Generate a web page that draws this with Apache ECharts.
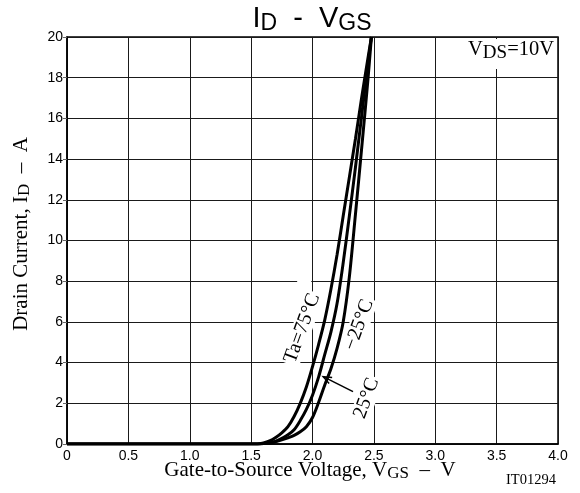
<!DOCTYPE html>
<html>
<head>
<meta charset="utf-8">
<script src="https://cdn.jsdelivr.net/npm/echarts@6/dist/echarts.min.js"></script>
<style>
  html, body { margin: 0; padding: 0; background: #fff; }
  #chart { width: 580px; height: 493px; }
</style>
</head>
<body>
<div id="chart"></div>
<script>
// Gate voltage (V) and drain current (A) samples for each ambient temperature
const vgsT75 = [0, 1.0, 1.5, 1.55, 1.6, 1.65, 1.7, 1.75, 1.8, 1.85, 1.9, 1.95, 2.0, 2.05, 2.1, 2.15, 2.2, 2.25, 2.3, 2.35, 2.4, 2.45, 2.48];
const idT75  = [0, 0, 0, 0, 0.05, 0.15, 0.32, 0.55, 0.85, 1.35, 2.0, 2.8, 3.8, 4.9, 6.1, 7.6, 9.3, 11.2, 13.1, 15.0, 17.0, 18.9, 20];

const vgsT25 = [0, 1.0, 1.5, 1.55, 1.6, 1.65, 1.7, 1.75, 1.8, 1.85, 1.9, 1.95, 2.0, 2.05, 2.1, 2.15, 2.2, 2.25, 2.3, 2.35, 2.4, 2.45, 2.48];
const idT25  = [0, 0, 0, 0, 0.02, 0.05, 0.13, 0.28, 0.45, 0.7, 1.15, 1.7, 2.4, 3.3, 4.4, 5.5, 6.9, 8.9, 11.2, 13.6, 16.1, 18.6, 20];

const vgsTm25 = [0, 1.0, 1.5, 1.55, 1.6, 1.65, 1.7, 1.75, 1.8, 1.85, 1.9, 1.95, 2.0, 2.05, 2.1, 2.15, 2.2, 2.25, 2.3, 2.35, 2.4, 2.45, 2.48];
const idTm25  = [0, 0, 0, 0, 0.02, 0.06, 0.12, 0.2, 0.3, 0.42, 0.6, 0.85, 1.3, 2.05, 2.9, 3.7, 4.7, 6.0, 8.2, 11.3, 14.5, 17.8, 20];

// Axis tick labels
const xTickLabels = ['0', '0.5', '1.0', '1.5', '2.0', '2.5', '3.0', '3.5', '4.0'];
const yTickLabels = ['0', '2', '4', '6', '8', '10', '12', '14', '16', '18', '20'];

const SANS = 'Liberation Sans, Arial, sans-serif';
const SERIF = 'Liberation Serif, Times New Roman, serif';

function pairs(xs, ys) { return xs.map((x, i) => [x, ys[i]]); }

const chart = echarts.init(document.getElementById('chart'));

function curve(name, xs, ys) {
  return {
    name: name,
    type: 'line',
    data: pairs(xs, ys),
    showSymbol: false,
    smooth: 0.3,
    lineStyle: { color: '#000', width: 3 },
    z: 5,
    silent: true
  };
}

chart.setOption({
  animation: false,
  backgroundColor: '#fff',
  grid: {
    left: 67, right: 22, top: 37, bottom: 49,
    show: true, borderColor: '#000', borderWidth: 1.5, backgroundColor: 'transparent'
  },
  xAxis: {
    type: 'value', min: 0, max: 4, interval: 0.5,
    axisLine: { show: true, lineStyle: { color: '#000', width: 1.5 } },
    axisTick: { show: false },
    axisLabel: {
      color: '#000', fontFamily: SANS, fontSize: 14, margin: 5,
      formatter: (v) => xTickLabels[Math.round(v / 0.5)]
    },
    splitLine: { show: true, lineStyle: { color: '#1a1a1a', width: 1 } }
  },
  yAxis: {
    type: 'value', min: 0, max: 20, interval: 2,
    axisLine: { show: true, lineStyle: { color: '#000', width: 1.5 } },
    axisTick: { show: true, length: 4, lineStyle: { color: '#666' } },
    axisLabel: {
      color: '#000', fontFamily: SANS, fontSize: 14, margin: 4,
      formatter: (v) => yTickLabels[Math.round(v / 2)]
    },
    splitLine: { show: true, lineStyle: { color: '#1a1a1a', width: 1 } }
  },
  series: [
    curve('Ta=75°C', vgsT75, idT75),
    curve('25°C', vgsT25, idT25),
    curve('-25°C', vgsTm25, idTm25)
  ]
});

// Annotations placed in data space, then converted to pixels
function px(v, i) { return chart.convertToPixel({ gridIndex: 0 }, [v, i]); }

const rot = 70 * Math.PI / 180;
function curveLabel(text, v, i) {
  const p = px(v, i);
  return {
    type: 'text', x: p[0], y: p[1], rotation: rot, z: 20,
    style: {
      text: text, fontFamily: SERIF, fontSize: 20, fill: '#000',
      align: 'center', verticalAlign: 'middle',
      backgroundColor: '#fff', padding: [0, 2]
    }
  };
}

const tip = px(2.087, 3.31);
const tail = px(2.33, 2.57);
const ang = Math.atan2(tail[1] - tip[1], tail[0] - tip[0]);
const headLen = 9, spread = 0.38;
const h1 = [tip[0] + headLen * Math.cos(ang + spread), tip[1] + headLen * Math.sin(ang + spread)];
const h2 = [tip[0] + headLen * Math.cos(ang - spread), tip[1] + headLen * Math.sin(ang - spread)];

// Small blank patch over the 8 A grid line just left of 2.0 V
const gapA = px(1.875, 8.08);
const gapB = px(1.99, 7.92);

const subStyleSerif = { fontFamily: SERIF, fontSize: 17, fill: '#000', padding: [8, 0, 0, 0] };

chart.setOption({
  graphic: [
    {
      type: 'rect', z: 1,
      shape: { x: gapA[0], y: gapA[1], width: gapB[0] - gapA[0], height: gapB[1] - gapA[1] },
      style: { fill: '#fff' }
    },
    curveLabel('Ta=75°C', 1.916, 5.69),
    curveLabel('\u221225°C', 2.38, 5.85),
    curveLabel('25°C', 2.44, 2.25),
    {
      type: 'polyline', z: 20,
      shape: { points: [tail, tip] },
      style: { stroke: '#000', lineWidth: 1.5, fill: null }
    },
    {
      type: 'polyline', z: 20,
      shape: { points: [h1, tip, h2] },
      style: { stroke: '#000', lineWidth: 1.5, fill: null }
    },
    // Title
    {
      type: 'text', x: 312, y: 19, z: 20,
      style: {
        text: '{a|I}{b|D}{a|  -  V}{b|GS}',
        align: 'center', verticalAlign: 'middle',
        rich: {
          a: { fontFamily: SANS, fontSize: 29, fill: '#000', lineHeight: 32 },
          b: { fontFamily: SANS, fontSize: 23, fill: '#000', lineHeight: 23, padding: [10, 0, 0, 0] }
        }
      }
    },
    // Drain-source voltage condition
    {
      type: 'text', x: 555, y: 39, z: 20,
      style: {
        text: '{a|V}{b|DS}{a|=10V}',
        align: 'right', verticalAlign: 'top',
        backgroundColor: '#fff', padding: [0, 1, 8, 3],
        rich: {
          a: { fontFamily: SERIF, fontSize: 20.5, fill: '#000', lineHeight: 22 },
          b: { fontFamily: SERIF, fontSize: 19, fill: '#000', lineHeight: 19, padding: [7, 0, 0, 0] }
        }
      }
    },
    // X axis title
    {
      type: 'text', x: 310, y: 470, z: 20,
      style: {
        text: '{a|Gate-to-Source Voltage, V}{b|GS}{a|  \u2013  V}',
        align: 'center', verticalAlign: 'middle',
        rich: {
          a: { fontFamily: SERIF, fontSize: 21, fill: '#000', lineHeight: 24 },
          b: subStyleSerif
        }
      }
    },
    {
      type: 'text', x: 531, y: 480, z: 20,
      style: {
        text: 'IT01294', fontFamily: SERIF, fontSize: 14.5, fill: '#000',
        align: 'center', verticalAlign: 'middle'
      }
    },
    // Y axis title
    {
      type: 'text', x: 21, y: 234, rotation: Math.PI / 2, z: 20,
      style: {
        text: '{a|Drain Current, I}{b|D}{a|  \u2013  A}',
        align: 'center', verticalAlign: 'middle',
        rich: {
          a: { fontFamily: SERIF, fontSize: 21, fill: '#000', lineHeight: 24 },
          b: subStyleSerif
        }
      }
    }
  ]
});
</script>
</body>
</html>
